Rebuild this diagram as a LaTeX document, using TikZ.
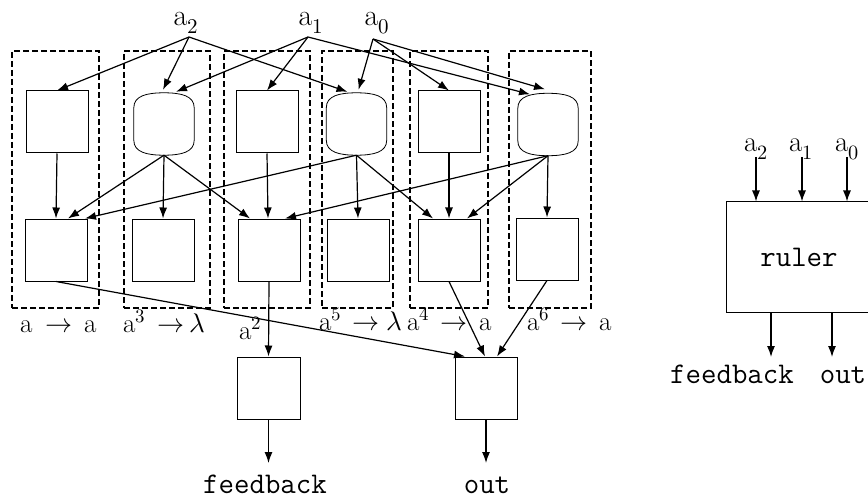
\documentclass[tikz,border=0pt]{standalone}
\usepackage{unicode-math}
\usetikzlibrary{arrows.meta,calc}
\newcommand{\barrelpath}[1]{%
 \draw[line width=0.8pt] ([yshift=-15pt]#1.north west) .. controls ([yshift=-3pt]#1.north west) and ([xshift=13pt]#1.north west) .. (#1.north) .. controls ([xshift=-13pt]#1.north east) and ([yshift=-3pt]#1.north east) .. ([yshift=-15pt]#1.north east) -- ([yshift=15pt]#1.south east) .. controls ([yshift=3pt]#1.south east) and ([xshift=-13pt]#1.south east) .. (#1.south) .. controls ([xshift=13pt]#1.south west) and ([yshift=3pt]#1.south west) .. ([yshift=15pt]#1.south west) -- cycle;}
\begin{document}
\begin{tikzpicture}[x=1pt,y=-1pt,
  box/.style={draw,line width=1pt,minimum width=62pt,minimum height=62pt,inner sep=0pt},
  barrelnode/.style={minimum width=60pt,minimum height=62pt,inner sep=0pt},
  group/.style={draw,line width=1.5pt,dash pattern=on 6pt off 3pt,inner sep=0pt,minimum height=257pt},
  arr/.style={-{Latex[length=11pt,width=8pt]},line width=1.2pt},
  toplab/.style={font=\fontsize{30}{34}\selectfont,inner sep=0pt,anchor=base},
  sidelab/.style={font=\fontsize{29}{34}\selectfont,inner sep=0pt,anchor=base},
  lab/.style={font=\fontsize{27}{31}\selectfont,inner sep=0pt,anchor=base west},
  ttlab/.style={font=\ttfamily\fontsize{30}{35}\selectfont,inner sep=0pt,anchor=base}]
\useasboundingbox (0,0) rectangle (868,500);
\clip (0,0) rectangle (868,500);
% groups
\node[group,minimum width=87pt] (g1) at (55.5,179.5) {};
\node[group,minimum width=86pt] (g2) at (167,179.5) {};
\node[group,minimum width=86pt] (g3) at (267,179.5) {};
\node[group,minimum width=71pt] (g4) at (357.5,179.5) {};
\node[group,minimum width=78pt] (g5) at (449,179.5) {};
\node[group,minimum width=82pt] (g6) at (550,179.5) {};
% top row
\node[box] (t1) at (57,122) {};
\node[barrelnode] (t2) at (164,124) {};
\node[box] (t3) at (267,122) {};
\node[barrelnode] (t4) at (356.5,124) {};
\node[box] (t5) at (449,122) {};
\node[barrelnode] (t6) at (548,124.5) {};
\barrelpath{t2}\barrelpath{t4}\barrelpath{t6}
% bottom row
\node[box] (b1) at (56,250) {};
\node[box] (b2) at (163,250) {};
\node[box] (b3) at (269,250) {};
\node[box] (b4) at (358,250) {};
\node[box] (b5) at (449,250) {};
\node[box] (b6) at (547,249) {};
% output boxes
\node[box,minimum width=63pt] (fb) at (268.5,388) {};
\node[box] (out) at (486,388) {};
% top labels
\node[toplab] (a2) at (186,26) {a$_2$};
\node[toplab] (a1) at (311,26) {a$_1$};
\node[toplab] (a0) at (377,26) {a$_0$};
\coordinate (a2p) at (189,37);
\coordinate (a1p) at (308,37);
\coordinate (a0p) at (373,39);
% inputs
\draw[arr] (a2p) -- (t1.north);
\draw[arr] (a2p) -- ([xshift=-1pt,yshift=3pt]t2.north);
\draw[arr] (a2p) -- ([xshift=-9pt,yshift=1pt]t4.north);
\draw[arr] (a1p) -- ([xshift=12pt,yshift=1pt]t2.north);
\draw[arr] (a1p) -- (t3.north);
\draw[arr] (a1p) -- ([xshift=-18pt,yshift=-1pt]t6.north);
\draw[arr] (a0p) -- ([xshift=2pt,yshift=3pt]t4.north);
\draw[arr] (a0p) -- (t5.north);
\draw[arr] (a0p) -- ([xshift=-3pt,yshift=4pt]t6.north);
% middle
\draw[arr] (t1.south) -- (b1.north);
\draw[arr] (t2.south) -- ([xshift=12pt]b1.north);
\draw[arr] (t4.south) -- ([xshift=29pt]b1.north);
\draw[arr] (t2.south) -- (b2.north);
\draw[arr] (t2.south) -- ([xshift=-19pt]b3.north);
\draw[arr] (t3.south) -- ([xshift=-1pt]b3.north);
\draw[arr] (t6.south) -- ([xshift=16pt]b3.north);
\draw[arr] (t4.south) -- (b4.north);
\draw[arr] (t4.south) -- ([xshift=-16pt]b5.north);
\draw[arr] (t5.south) -- (b5.north);
\draw[arr] (t6.south) -- ([xshift=18pt]b5.north);
\draw[arr] (t6.south) -- (b6.north);
% bottom
\draw[arr] (b1.south) -- ([xshift=-21pt]out.north);
\draw[arr] (b3.south) -- (fb.north);
\draw[arr] (b5.south) -- ([xshift=-1pt]out.north);
\draw[arr] (b6.south) -- ([xshift=11pt]out.north);
% rule labels
\node[lab] (l1a) at (20,332) {a};
\node[lab] (l1b) at (45,332) {$\rightarrow$};
\node[lab] (l1c) at (84,332) {a};
\node[lab] (l2a) at (123,332) {a$^3$};
\node[lab] (l2b) at (157,332) {$\rightarrow$};
\node[lab] (l2c) at (189,332) {$\lambda$};
\node[lab] (l3a) at (239,339) {a$^2$};
\node[lab] (l4a) at (319,330) {a$^5$};
\node[lab] (l4b) at (352,330) {$\rightarrow$};
\node[lab] (l4c) at (386,330) {$\lambda$};
\node[lab] (l5a) at (407,330) {a$^4$};
\node[lab] (l5b) at (440,330) {$\rightarrow$};
\node[lab] (l5c) at (479,330) {a};
\node[lab] (l6a) at (527,330) {a$^6$};
\node[lab] (l6b) at (560,330) {$\rightarrow$};
\node[lab] (l6c) at (599,330) {a};
% final outputs
\node[ttlab] (fbt) at (265,493) {feedback};
\node[ttlab] (outt) at (487,493) {out};
\coordinate (fbend) at (268.5,463);
\coordinate (outend) at (486,463);
\draw[arr] (fb.south) -- (fbend);
\draw[arr] (out.south) -- (outend);
% right-hand summary
\node[draw,line width=1pt,minimum width=146pt,minimum height=110pt,inner sep=0pt,font=\ttfamily\fontsize{30}{35}\selectfont] (ruler) at (799,257) {ruler};
\node[sidelab] (a2r) at (756,152) {a$_2$};
\node[sidelab] (a1r) at (801,152) {a$_1$};
\node[sidelab] (a0r) at (847,152) {a$_0$};
\coordinate (r2) at (756,157);
\coordinate (r1) at (802,157);
\coordinate (r0) at (847,157);
\draw[arr] (r2) -- (r2 |- ruler.north);
\draw[arr] (r1) -- (r1 |- ruler.north);
\draw[arr] (r0) -- (r0 |- ruler.north);
\node[ttlab] (fbr) at (732,383) {feedback};
\node[ttlab] (outr) at (843,383) {out};
\coordinate (rf) at (771,357);
\coordinate (ro) at (832,357);
\draw[arr] (rf |- ruler.south) -- (rf);
\draw[arr] (ro |- ruler.south) -- (ro);
\end{tikzpicture}
\end{document}
